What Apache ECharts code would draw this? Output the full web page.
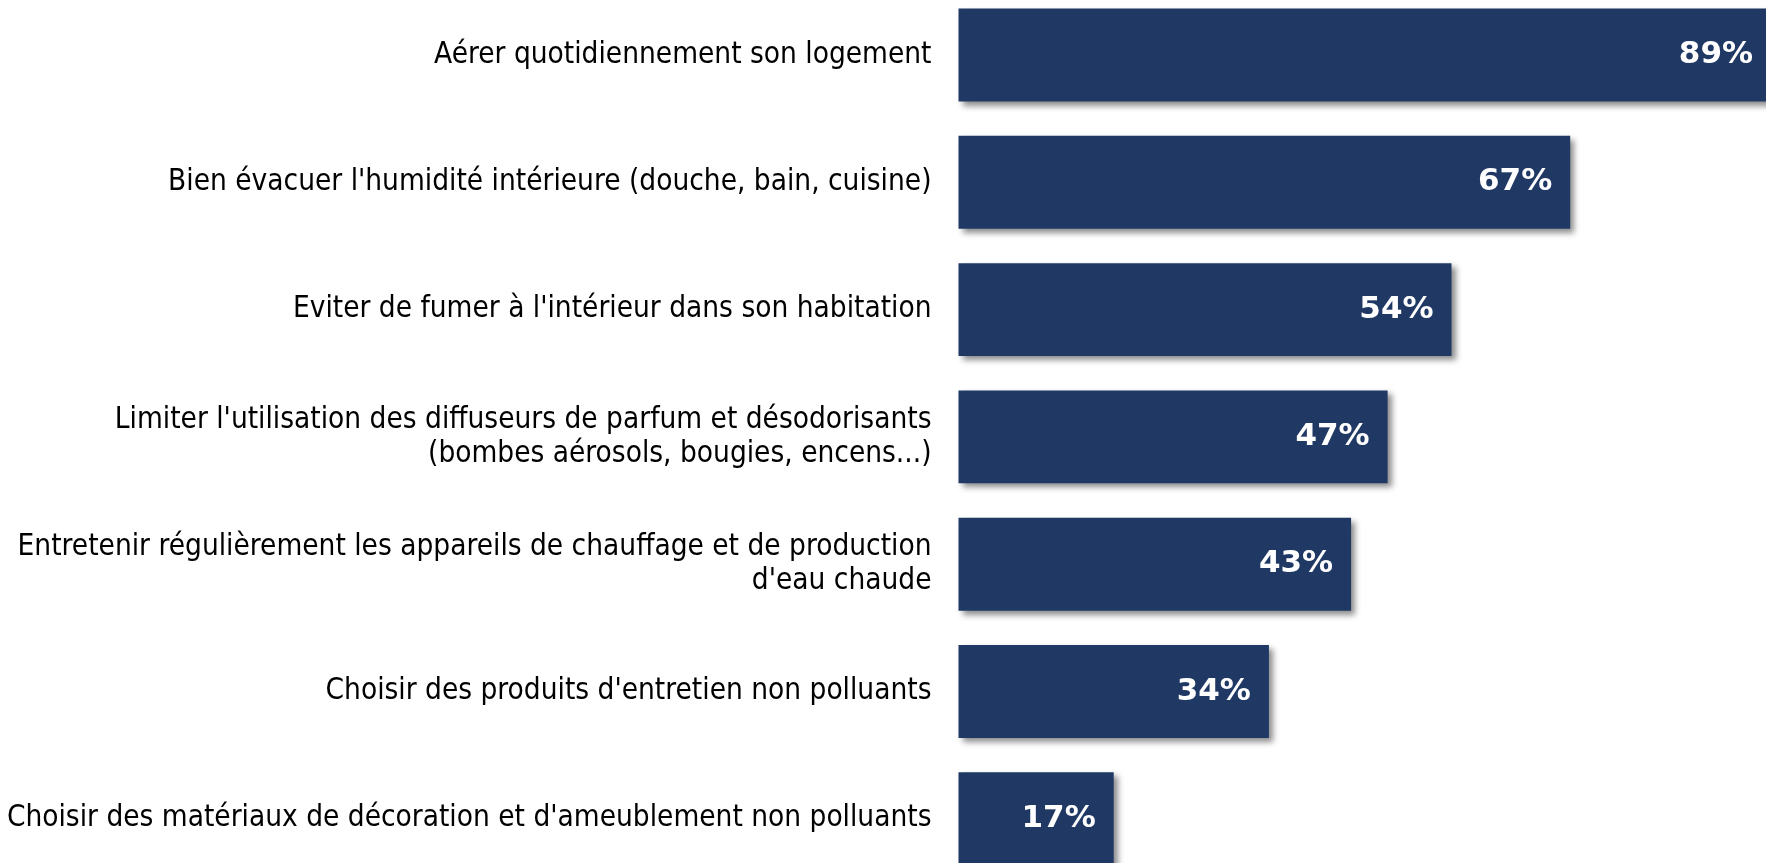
<!DOCTYPE html>
<html><head><meta charset="utf-8">
<script src="https://cdn.jsdelivr.net/npm/echarts@6/dist/echarts.min.js"></script>
<style>html,body{margin:0;padding:0;background:#fff}#c{width:1766px;height:863px}</style>
</head><body><div id="c"></div>
<script>
const categories = [
  "Aérer quotidiennement son logement",
  "Bien évacuer l'humidité intérieure (douche, bain, cuisine)",
  "Eviter de fumer à l'intérieur dans son habitation",
  "Limiter l'utilisation des diffuseurs de parfum et désodorisants\n(bombes aérosols, bougies, encens...)",
  "Entretenir régulièrement les appareils de chauffage et de production\nd'eau chaude",
  "Choisir des produits d'entretien non polluants",
  "Choisir des matériaux de décoration et d'ameublement non polluants"
];
const values = [89, 67, 54, 47, 43, 34, 17];

const chart = echarts.init(document.getElementById('c'));
chart.setOption({
  animation: false,
  grid: { left: 958.5, top: -8.6, height: 891, width: 913, containLabel: false, outerBoundsMode: 'none' },
  xAxis: { type: 'value', min: 0, max: 100, show: false },
  yAxis: {
    type: 'category', data: categories, inverse: true,
    axisLine: { show: false }, axisTick: { show: false },
    axisLabel: { margin: 27, color: '#000', fontFamily: '"DejaVu Sans Condensed", "DejaVu Sans"', fontSize: 29.5, lineHeight: 34, align: 'right', padding: [4, 0, 0, 0] }
  },
  series: [{
    type: 'bar', data: values, barCategoryGap: '27%',
    itemStyle: { color: '#203864', shadowColor: 'rgba(0,0,0,0.45)', shadowBlur: 6, shadowOffsetX: 4, shadowOffsetY: 4 },
    label: { show: true, position: 'insideRight', distance: 18, color: '#fff', fontFamily: 'DejaVu Sans', fontWeight: 'bold', fontSize: 31, padding: [4, 0, 0, 0], formatter: p => p.value + '%' }
  }]
});
</script></body></html>
